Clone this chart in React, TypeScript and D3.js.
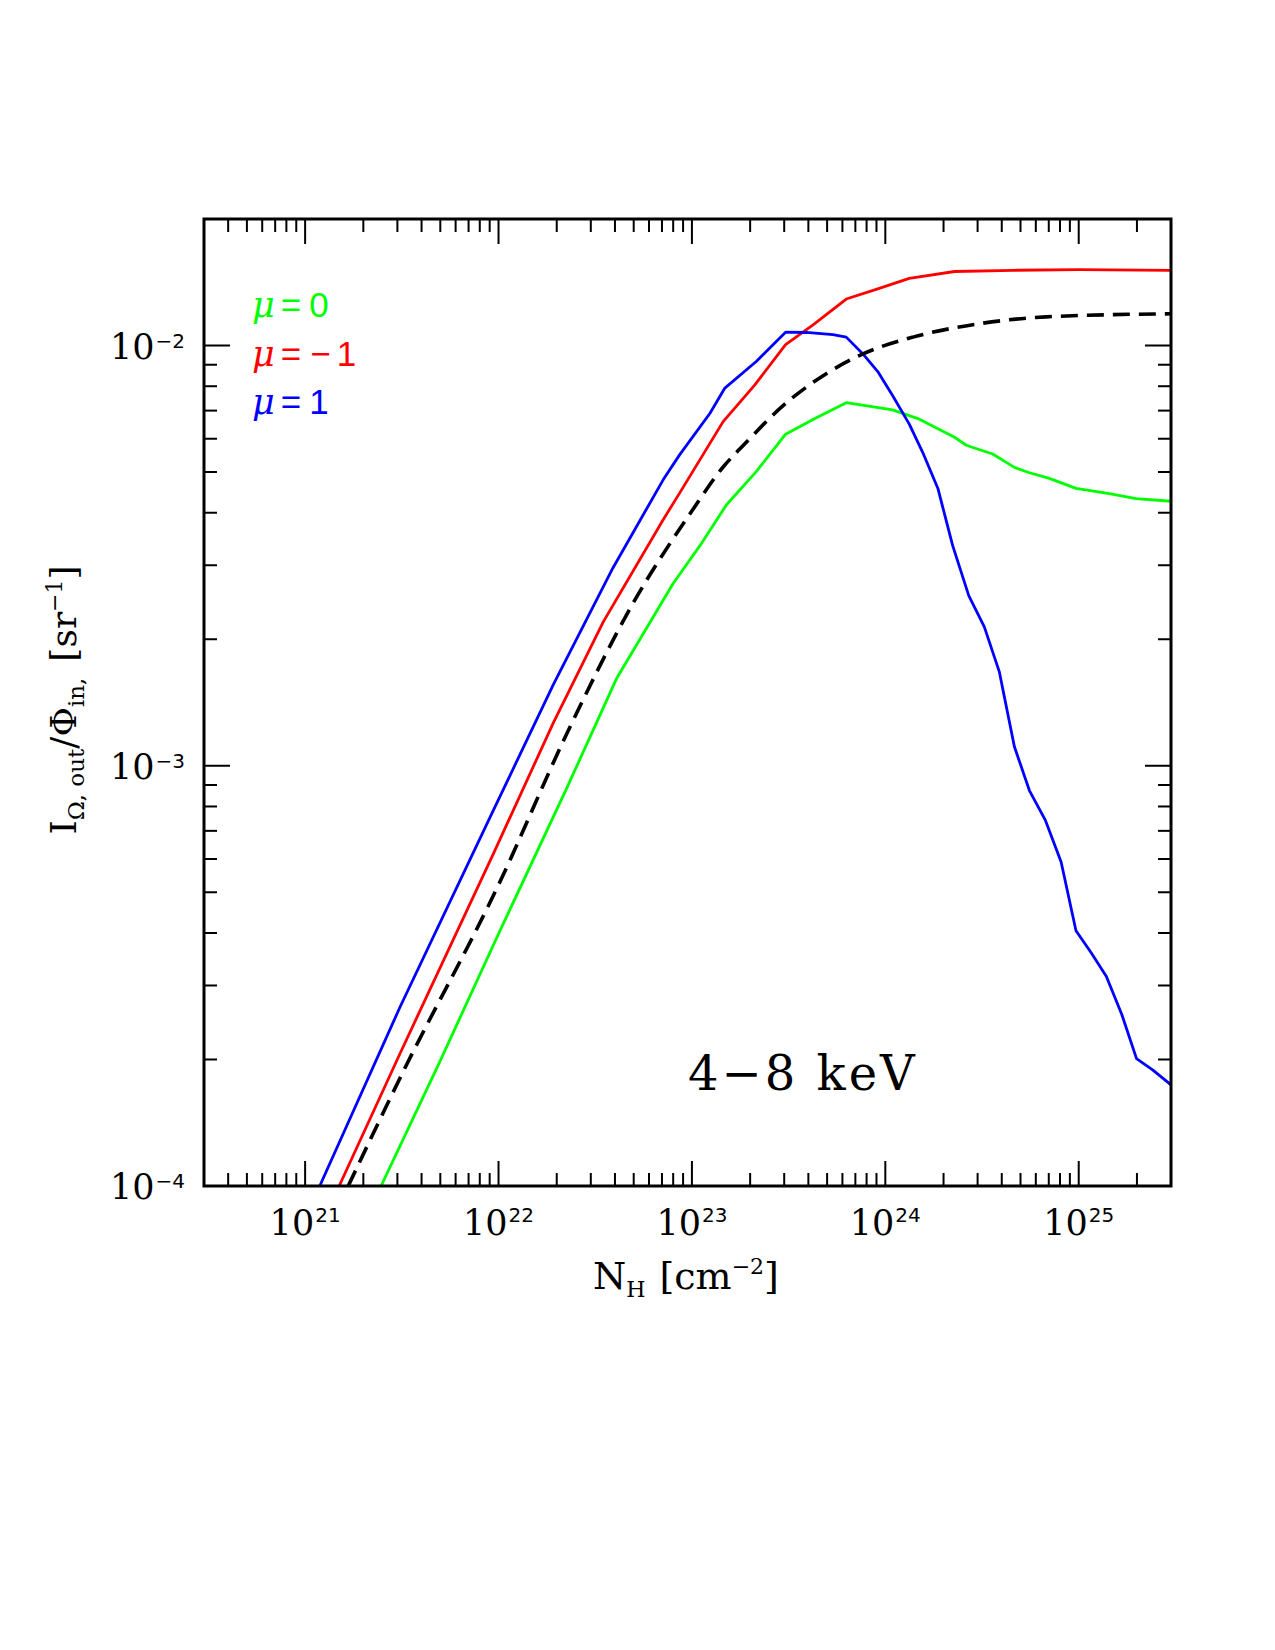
import * as d3 from 'd3'

// column density N_H [cm^-2] vs reflected intensity I [sr^-1]
const muPlusOne: [number, number][] = [
  [1.19e21, 1.0e-4], [3.1e21, 2.67e-4], [9.4e21, 7.83e-4], [1.92e22, 1.56e-3],
  [3.91e22, 2.96e-3], [7.1e22, 4.79e-3], [8.65e22, 5.5e-3], [1.24e23, 6.9e-3],
  [1.48e23, 7.92e-3], [2.15e23, 9.16e-3], [3.05e23, 1.076e-2], [3.9e23, 1.074e-2],
  [5.36e23, 1.062e-2], [6.28e23, 1.047e-2], [7.66e23, 9.55e-3], [9.14e23, 8.67e-3],
  [1.09e24, 7.6e-3], [1.33e24, 6.5e-3], [1.56e24, 5.57e-3], [1.87e24, 4.57e-3],
  [2.23e24, 3.34e-3], [2.7e24, 2.54e-3], [3.25e24, 2.14e-3], [3.89e24, 1.67e-3],
  [4.65e24, 1.11e-3], [5.56e24, 8.73e-4], [6.73e24, 7.41e-4], [8.11e24, 5.9e-4],
  [9.68e24, 4.05e-4], [1.16e25, 3.59e-4], [1.39e25, 3.15e-4], [1.67e25, 2.56e-4],
  [1.99e25, 2.01e-4], [2.41e25, 1.89e-4], [3.0e25, 1.74e-4],
]

const muMinusOne: [number, number][] = [
  [1.5e21, 1.0e-4], [3.1e21, 2.07e-4], [9.4e21, 6.17e-4], [1.92e22, 1.265e-3],
  [3.48e22, 2.2e-3], [7.1e22, 3.85e-3], [8.65e22, 4.46e-3], [1.45e23, 6.59e-3],
  [2.11e23, 8.05e-3], [3.05e23, 1.005e-2], [4.23e23, 1.12e-2], [6.28e23, 1.29e-2],
  [8.97e23, 1.36e-2], [1.33e24, 1.445e-2], [2.28e24, 1.5e-2], [4.56e24, 1.51e-2],
  [1.0e25, 1.515e-2], [3.0e25, 1.51e-2],
]

const muZero: [number, number][] = [
  [2.47e21, 1.0e-4], [4.98e21, 1.98e-4], [1.02e22, 4.06e-4], [2.25e22, 8.83e-4],
  [4.07e22, 1.61e-3], [7.98e22, 2.71e-3], [1.1e23, 3.34e-3], [1.51e23, 4.18e-3],
  [2.15e23, 5.01e-3], [3.05e23, 6.15e-3], [4.4e23, 6.73e-3], [6.28e23, 7.31e-3],
  [1.09e24, 7.03e-3], [1.5e24, 6.68e-3], [2.28e24, 6.05e-3], [2.62e24, 5.79e-3],
  [3.59e24, 5.52e-3], [4.65e24, 5.13e-3], [5.56e24, 4.98e-3], [7.05e24, 4.83e-3],
  [9.68e24, 4.57e-3], [1.44e25, 4.44e-3], [1.98e25, 4.32e-3], [3.0e25, 4.26e-3],
]

// angle-averaged curve (dashed)
const averaged: [number, number][] = [
  [1.67e21, 1.0e-4], [3.1e21, 1.81e-4], [1.02e22, 5.31e-4], [2.25e22, 1.19e-3],
  [4.97e22, 2.44e-3], [9.93e22, 4.02e-3], [1.45e23, 5.14e-3], [1.84e23, 5.78e-3],
  [2.96e23, 7.19e-3], [4.95e23, 8.57e-3], [7.66e23, 9.55e-3], [1.39e24, 1.047e-2],
  [3.07e24, 1.127e-2], [6.78e24, 1.17e-2], [3.0e25, 1.19e-2],
]

const xDecades = [21, 22, 23, 24, 25]
const yDecades = [-4, -3, -2]
const legendSigns = ['', '\u2212', '']
const legendValues = ['0', '1', '1']
const legendColors = ['#00ff00', '#ff0000', '#0000ff']
const bandLabel = '4\u22128 keV'

const W = 1275
const H = 1650
const L = 204, R = 1171, T = 219, B = 1186

const serif = '"DejaVu Serif", serif'
const sans = '"DejaVu Sans", sans-serif'
const legendFont = '"Liberation Sans", Arial, sans-serif'

const App = () => {
  const x = d3.scaleLog().domain([3e20, 3e25]).range([L, R])
  const y = d3.scaleLog().domain([1e-4, 2e-2]).range([B, T])

  const line = d3.line<[number, number]>().x(d => x(d[0])).y(d => y(d[1]))
  const smooth = d3.line<[number, number]>().x(d => x(d[0])).y(d => y(d[1])).curve(d3.curveMonotoneX)

  // log ticks, major at each decade
  const xTicks: { v: number; major: boolean }[] = []
  for (let e = 20; e <= 25; e++)
    for (let k = 1; k <= 9; k++) {
      const v = k * Math.pow(10, e)
      if (v > 3e20 * 1.001 && v < 3e25 * 0.999) xTicks.push({ v, major: k === 1 })
    }
  const yTicks: { v: number; major: boolean }[] = []
  for (let e = -4; e <= -2; e++)
    for (let k = 1; k <= 9; k++) {
      const v = k * Math.pow(10, e)
      if (v > 1e-4 * 1.001 && v < 2e-2 * 0.999) yTicks.push({ v, major: k === 1 })
    }

  const series = [
    { data: muZero, color: legendColors[0] },
    { data: muMinusOne, color: legendColors[1] },
    { data: muPlusOne, color: legendColors[2] },
  ]

  return (
    <svg width={W} height={H} style={{ position: 'absolute', left: 0, top: 0, background: '#fff' }}>
      <defs>
        <clipPath id="plotArea">
          <rect x={L} y={T} width={R - L} height={B - T} />
        </clipPath>
      </defs>

      <g clipPath="url(#plotArea)" fill="none">
        {series.map((s, i) => (
          <path key={i} d={line(s.data) || ''} stroke={s.color} strokeWidth={2.8} strokeLinejoin="round" />
        ))}
        <path d={smooth(averaged) || ''} stroke="#000" strokeWidth={3.6} strokeDasharray="17 9" />
      </g>

      {/* ticks on all four sides */}
      <g stroke="#000" strokeWidth={2}>
        {xTicks.map((t, i) => {
          const len = t.major ? 25 : 13
          return (
            <g key={i}>
              <line x1={x(t.v)} x2={x(t.v)} y1={B} y2={B - len} />
              <line x1={x(t.v)} x2={x(t.v)} y1={T} y2={T + len} />
            </g>
          )
        })}
        {yTicks.map((t, i) => {
          const len = t.major ? 26 : 13
          return (
            <g key={i}>
              <line x1={L} x2={L + len} y1={y(t.v)} y2={y(t.v)} />
              <line x1={R} x2={R - len} y1={y(t.v)} y2={y(t.v)} />
            </g>
          )
        })}
      </g>
      <rect x={L} y={T} width={R - L} height={B - T} fill="none" stroke="#000" strokeWidth={3} />

      {/* tick labels */}
      {xDecades.map(e => (
        <text key={e} x={x(Math.pow(10, e))} y={1235} textAnchor="middle" fontFamily={serif} fontSize={35}>
          10
          <tspan dy={-13} dx={1} fontFamily={sans} fontSize={20}>{e}</tspan>
        </text>
      ))}
      {yDecades.map(e => (
        <text key={e} x={185} y={y(Math.pow(10, e)) + 13} textAnchor="end" fontFamily={serif} fontSize={35}>
          10
          <tspan dy={-11} dx={1} fontFamily={sans} fontSize={20}>{'\u2212' + Math.abs(e)}</tspan>
        </text>
      ))}

      {/* axis titles */}
      <text x={686} y={1289} textAnchor="middle" fontFamily={serif} fontSize={38}>
        N
        <tspan dy={8} fontSize={22}>H</tspan>
        <tspan dy={-8} dx={14}>[cm</tspan>
        <tspan dy={-15} fontSize={22}>{'\u22122'}</tspan>
        <tspan dy={15}>]</tspan>
      </text>
      <text transform="translate(76,700) rotate(-90)" textAnchor="middle" fontFamily={serif} fontSize={36}>
        I
        <tspan dy={8} fontSize={23}>{'\u03a9, out'}</tspan>
        <tspan dy={-8}>/</tspan>
        <tspan>{'\u03a6'}</tspan>
        <tspan dy={8} fontSize={23}>in,</tspan>
        <tspan dy={-8} dx={16}>[sr</tspan>
        <tspan dy={-14} fontSize={22}>{'\u22121'}</tspan>
        <tspan dy={14}>]</tspan>
      </text>

      {/* legend */}
      {legendValues.map((v, i) => (
        <text key={i} x={252} y={317 + i * 48.5} fill={legendColors[i]} fontFamily={legendFont} fontSize={35}>
          <tspan fontFamily={serif} fontStyle="italic">{'\u03bc'}</tspan>
          <tspan dx={6}>=</tspan>
          {legendSigns[i] ? <tspan dx={9}>{legendSigns[i]}</tspan> : null}
          <tspan dx={legendSigns[i] ? 6 : 8}>{v}</tspan>
        </text>
      ))}

      <text x={688} y={1090} fontFamily={serif} fontSize={48} letterSpacing={3}>{bandLabel}</text>
    </svg>
  )
}

export default App
